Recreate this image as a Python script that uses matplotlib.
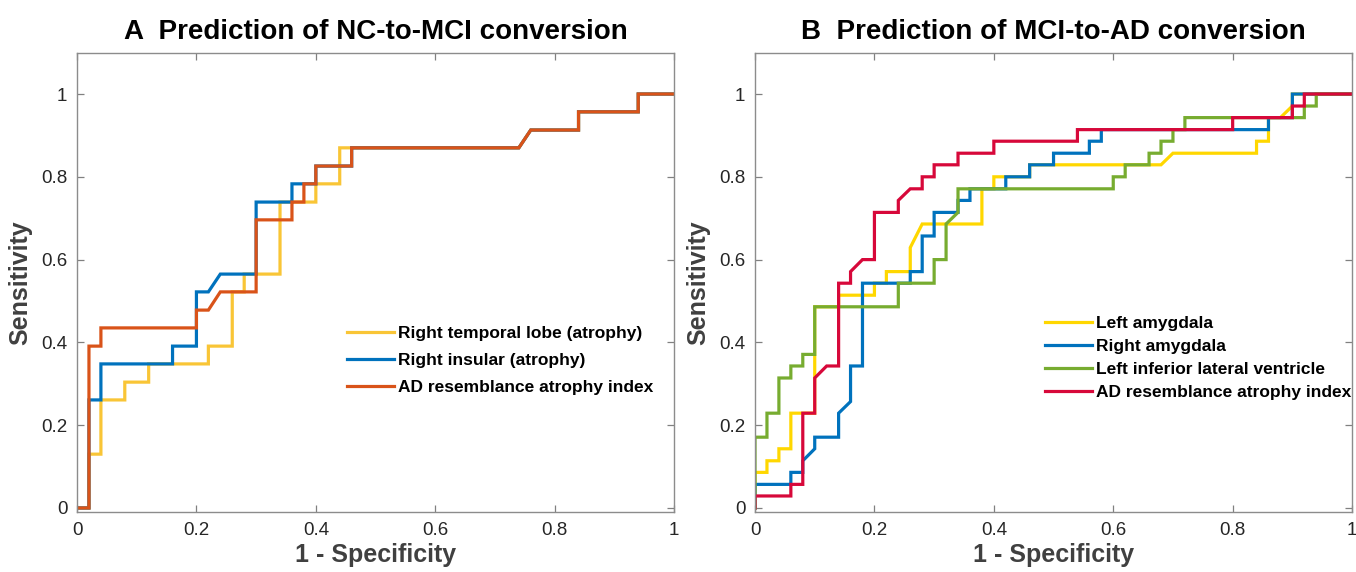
import matplotlib
matplotlib.use("Agg")
import matplotlib.pyplot as plt
from matplotlib.ticker import FuncFormatter

plt.rcParams['font.family'] = ['Liberation Sans', 'DejaVu Sans']

# ---- panel A: NC-to-MCI ----
a_titles = "A  Prediction of NC-to-MCI conversion"
a_labels = ["Right temporal lobe (atrophy)", "Right insular (atrophy)", "AD resemblance atrophy index"]
a_colors = ["#F9C536", "#0072BD", "#D95319"]

a_temporal_x = [0, 0.02, 0.02, 0.04, 0.04, 0.08, 0.08, 0.12, 0.12, 0.22, 0.22, 0.26, 0.26, 0.28,
                0.28, 0.34, 0.34, 0.40, 0.40, 0.44, 0.44, 0.74, 0.76, 0.84, 0.84, 0.94, 0.94, 1]
a_temporal_y = [0, 0, 0.130, 0.130, 0.261, 0.261, 0.304, 0.304, 0.348, 0.348, 0.391, 0.391, 0.522, 0.522,
                0.565, 0.565, 0.739, 0.739, 0.783, 0.783, 0.870, 0.870, 0.913, 0.913, 0.957, 0.957, 1, 1]
a_insular_x = [0, 0.02, 0.02, 0.04, 0.04, 0.16, 0.16, 0.20, 0.20, 0.22, 0.24, 0.30, 0.30,
               0.36, 0.36, 0.40, 0.40, 0.46, 0.46, 0.74, 0.76, 0.84, 0.84, 0.94, 0.94, 1]
a_insular_y = [0, 0, 0.261, 0.261, 0.348, 0.348, 0.391, 0.391, 0.522, 0.522, 0.565, 0.565, 0.739,
               0.739, 0.783, 0.783, 0.826, 0.826, 0.870, 0.870, 0.913, 0.913, 0.957, 0.957, 1, 1]
a_index_x = [0, 0.02, 0.02, 0.04, 0.04, 0.20, 0.20, 0.22, 0.24, 0.30, 0.30, 0.36, 0.36,
             0.38, 0.38, 0.40, 0.40, 0.46, 0.46, 0.74, 0.76, 0.84, 0.84, 0.94, 0.94, 1]
a_index_y = [0, 0, 0.391, 0.391, 0.435, 0.435, 0.478, 0.478, 0.522, 0.522, 0.696, 0.696, 0.739,
             0.739, 0.783, 0.783, 0.826, 0.826, 0.870, 0.870, 0.913, 0.913, 0.957, 0.957, 1, 1]

# ---- panel B: MCI-to-AD ----
b_titles = "B  Prediction of MCI-to-AD conversion"
b_labels = ["Left amygdala", "Right amygdala", "Left inferior lateral ventricle", "AD resemblance atrophy index"]
b_colors = ["#FFD700", "#0072BD", "#77AC30", "#D7083A"]

b_lamy_x = [0, 0, 0.02, 0.02, 0.04, 0.04, 0.06, 0.06, 0.10, 0.10, 0.14, 0.14, 0.20, 0.20, 0.22, 0.22,
            0.26, 0.26, 0.28, 0.38, 0.38, 0.40, 0.40, 0.46, 0.46, 0.68, 0.70, 0.84, 0.84, 0.86, 0.86,
            0.88, 0.90, 0.90, 1]
b_lamy_y = [0, 0.086, 0.086, 0.114, 0.114, 0.143, 0.143, 0.229, 0.229, 0.486, 0.486, 0.514, 0.514, 0.543,
            0.543, 0.571, 0.571, 0.629, 0.686, 0.686, 0.771, 0.771, 0.800, 0.800, 0.829, 0.829, 0.857,
            0.857, 0.886, 0.886, 0.943, 0.943, 0.971, 1, 1]
b_ramy_x = [0, 0, 0.06, 0.06, 0.08, 0.08, 0.10, 0.10, 0.14, 0.14, 0.16, 0.16, 0.18, 0.18, 0.26, 0.26,
            0.28, 0.28, 0.30, 0.30, 0.34, 0.34, 0.36, 0.36, 0.42, 0.42, 0.46, 0.46, 0.50, 0.50, 0.56,
            0.56, 0.58, 0.58, 0.86, 0.86, 0.90, 0.90, 1]
b_ramy_y = [0, 0.057, 0.057, 0.086, 0.086, 0.114, 0.143, 0.171, 0.171, 0.229, 0.257, 0.343, 0.343, 0.543,
            0.543, 0.571, 0.571, 0.657, 0.657, 0.714, 0.714, 0.743, 0.743, 0.771, 0.771, 0.800, 0.800,
            0.829, 0.829, 0.857, 0.857, 0.886, 0.886, 0.914, 0.914, 0.943, 0.943, 1, 1]
b_vent_x = [0, 0, 0.02, 0.02, 0.04, 0.04, 0.06, 0.06, 0.08, 0.08, 0.10, 0.10, 0.24, 0.24, 0.30, 0.30,
            0.32, 0.32, 0.34, 0.34, 0.60, 0.60, 0.62, 0.62, 0.66, 0.66, 0.68, 0.68, 0.70, 0.70, 0.72,
            0.72, 0.92, 0.92, 0.94, 0.94, 1]
b_vent_y = [0, 0.171, 0.171, 0.229, 0.229, 0.314, 0.314, 0.343, 0.343, 0.371, 0.371, 0.486, 0.486, 0.543,
            0.543, 0.600, 0.600, 0.686, 0.714, 0.771, 0.771, 0.800, 0.800, 0.829, 0.829, 0.857, 0.857,
            0.886, 0.886, 0.914, 0.914, 0.943, 0.943, 0.971, 0.971, 1, 1]
b_index_x = [0, 0, 0.06, 0.06, 0.08, 0.08, 0.10, 0.10, 0.12, 0.14, 0.14, 0.16, 0.16, 0.18, 0.20, 0.20,
             0.24, 0.24, 0.26, 0.28, 0.28, 0.30, 0.30, 0.34, 0.34, 0.40, 0.40, 0.54, 0.54, 0.80, 0.80,
             0.90, 0.90, 0.92, 0.92, 1]
b_index_y = [0, 0.029, 0.029, 0.057, 0.057, 0.229, 0.229, 0.314, 0.343, 0.343, 0.543, 0.543, 0.571, 0.600,
             0.600, 0.714, 0.714, 0.743, 0.771, 0.771, 0.800, 0.800, 0.829, 0.829, 0.857, 0.857, 0.886,
             0.886, 0.914, 0.914, 0.943, 0.943, 0.971, 0.971, 1, 1]

ticks = [0, 0.2, 0.4, 0.6, 0.8, 1]

fig = plt.figure(figsize=(13.56, 5.72), dpi=100)
axA = fig.add_axes([0.0568, 0.1047, 0.4403, 0.8033])
axB = fig.add_axes([0.5568, 0.1047, 0.4403, 0.8033])

fmt = FuncFormatter(lambda v, p: ("%g" % v))


def style(ax, title):
    ax.set_xlim(0, 1)
    ax.set_ylim(-0.01, 1.1)
    ax.set_xticks(ticks)
    ax.set_yticks(ticks)
    ax.xaxis.set_major_formatter(fmt)
    ax.yaxis.set_major_formatter(fmt)
    ax.tick_params(direction='in', top=True, right=True, length=5, width=0.9,
                   color='#808080', labelcolor='#262626', labelsize=13.5, pad=7)
    for s in ax.spines.values():
        s.set_color('#8c8c8c')
        s.set_linewidth(1.0)
    ax.set_xlabel("1 - Specificity", fontsize=18, fontweight='bold', color='#404040', labelpad=3)
    ax.set_ylabel("Sensitivity", fontsize=18, fontweight='bold', color='#404040', labelpad=6)
    ax.set_title(title, fontsize=20, fontweight='bold', pad=10)


lw = 2.3
for xs, ys, lab, c in zip([a_temporal_x, a_insular_x, a_index_x],
                          [a_temporal_y, a_insular_y, a_index_y], a_labels, a_colors):
    axA.plot(xs, ys, color=c, lw=lw, label=lab, solid_joinstyle='miter')
style(axA, a_titles)
axA.legend(loc='upper left', bbox_to_anchor=(0.452, 0.405), frameon=False,
           prop={'weight': 'bold', 'size': 12.5}, handlelength=2.7, handletextpad=0.25,
           labelspacing=0.69, borderpad=0, borderaxespad=0)

for xs, ys, lab, c in zip([b_lamy_x, b_ramy_x, b_vent_x, b_index_x],
                          [b_lamy_y, b_ramy_y, b_vent_y, b_index_y], b_labels, b_colors):
    axB.plot(xs, ys, color=c, lw=lw, label=lab, solid_joinstyle='miter')
style(axB, b_titles)
axB.legend(loc='upper left', bbox_to_anchor=(0.486, 0.427), frameon=False,
           prop={'weight': 'bold', 'size': 12.5}, handlelength=2.7, handletextpad=0.25,
           labelspacing=0.46, borderpad=0, borderaxespad=0)

fig.savefig("out.png", dpi=100)
